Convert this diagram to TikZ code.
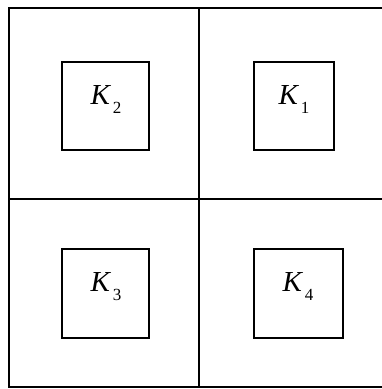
\documentclass[tikz,border=0pt]{standalone}
\usepackage{fontspec}
\setmainfont{Liberation Serif}
\begin{document}
\begin{tikzpicture}[x=1pt,y=-1pt,
  grid/.style={line width=1.8pt,black},
  kbox/.style={draw,line width=1.8pt,inner sep=0pt},
  lbl/.style={anchor=base,inner sep=0pt,font=\fontsize{29}{29}\selectfont}]
\useasboundingbox (0,0) rectangle (382,389);
\coordinate (tl) at (9,8);
\coordinate (tr) at (383,8);
\coordinate (bl) at (9,387);
\coordinate (br) at (383,387);
\coordinate (mt) at (199.3,8);
\coordinate (mb) at (199.3,387);
\coordinate (ml) at (9,198.7);
\coordinate (mr) at (383,198.7);
\draw[grid] (tr) -- (tl) -- (bl) -- (br);
\draw[grid] (mt) -- (mb);
\draw[grid] (ml) -- (mr);
\node[kbox,minimum width=87pt,minimum height=88pt] (b2) at (105.5,106) {};
\node[kbox,minimum width=80pt,minimum height=88pt] (b1) at (294,106) {};
\node[kbox,minimum width=87pt,minimum height=89pt] (b3) at (105.5,293.5) {};
\node[kbox,minimum width=89pt,minimum height=89pt] (b4) at (298.5,293.5) {};
\newcommand\klab[1]{\textit{K}\kern1.5pt\raisebox{-9pt}{\fontsize{17}{17}\selectfont #1}}
\node[lbl] (k2) at (106,104) {\klab{2}};
\node[lbl] (k1) at (294,104) {\klab{1}};
\node[lbl] (k3) at (106,291.5) {\klab{3}};
\node[lbl] (k4) at (298,291.5) {\klab{4}};
\end{tikzpicture}
\end{document}
